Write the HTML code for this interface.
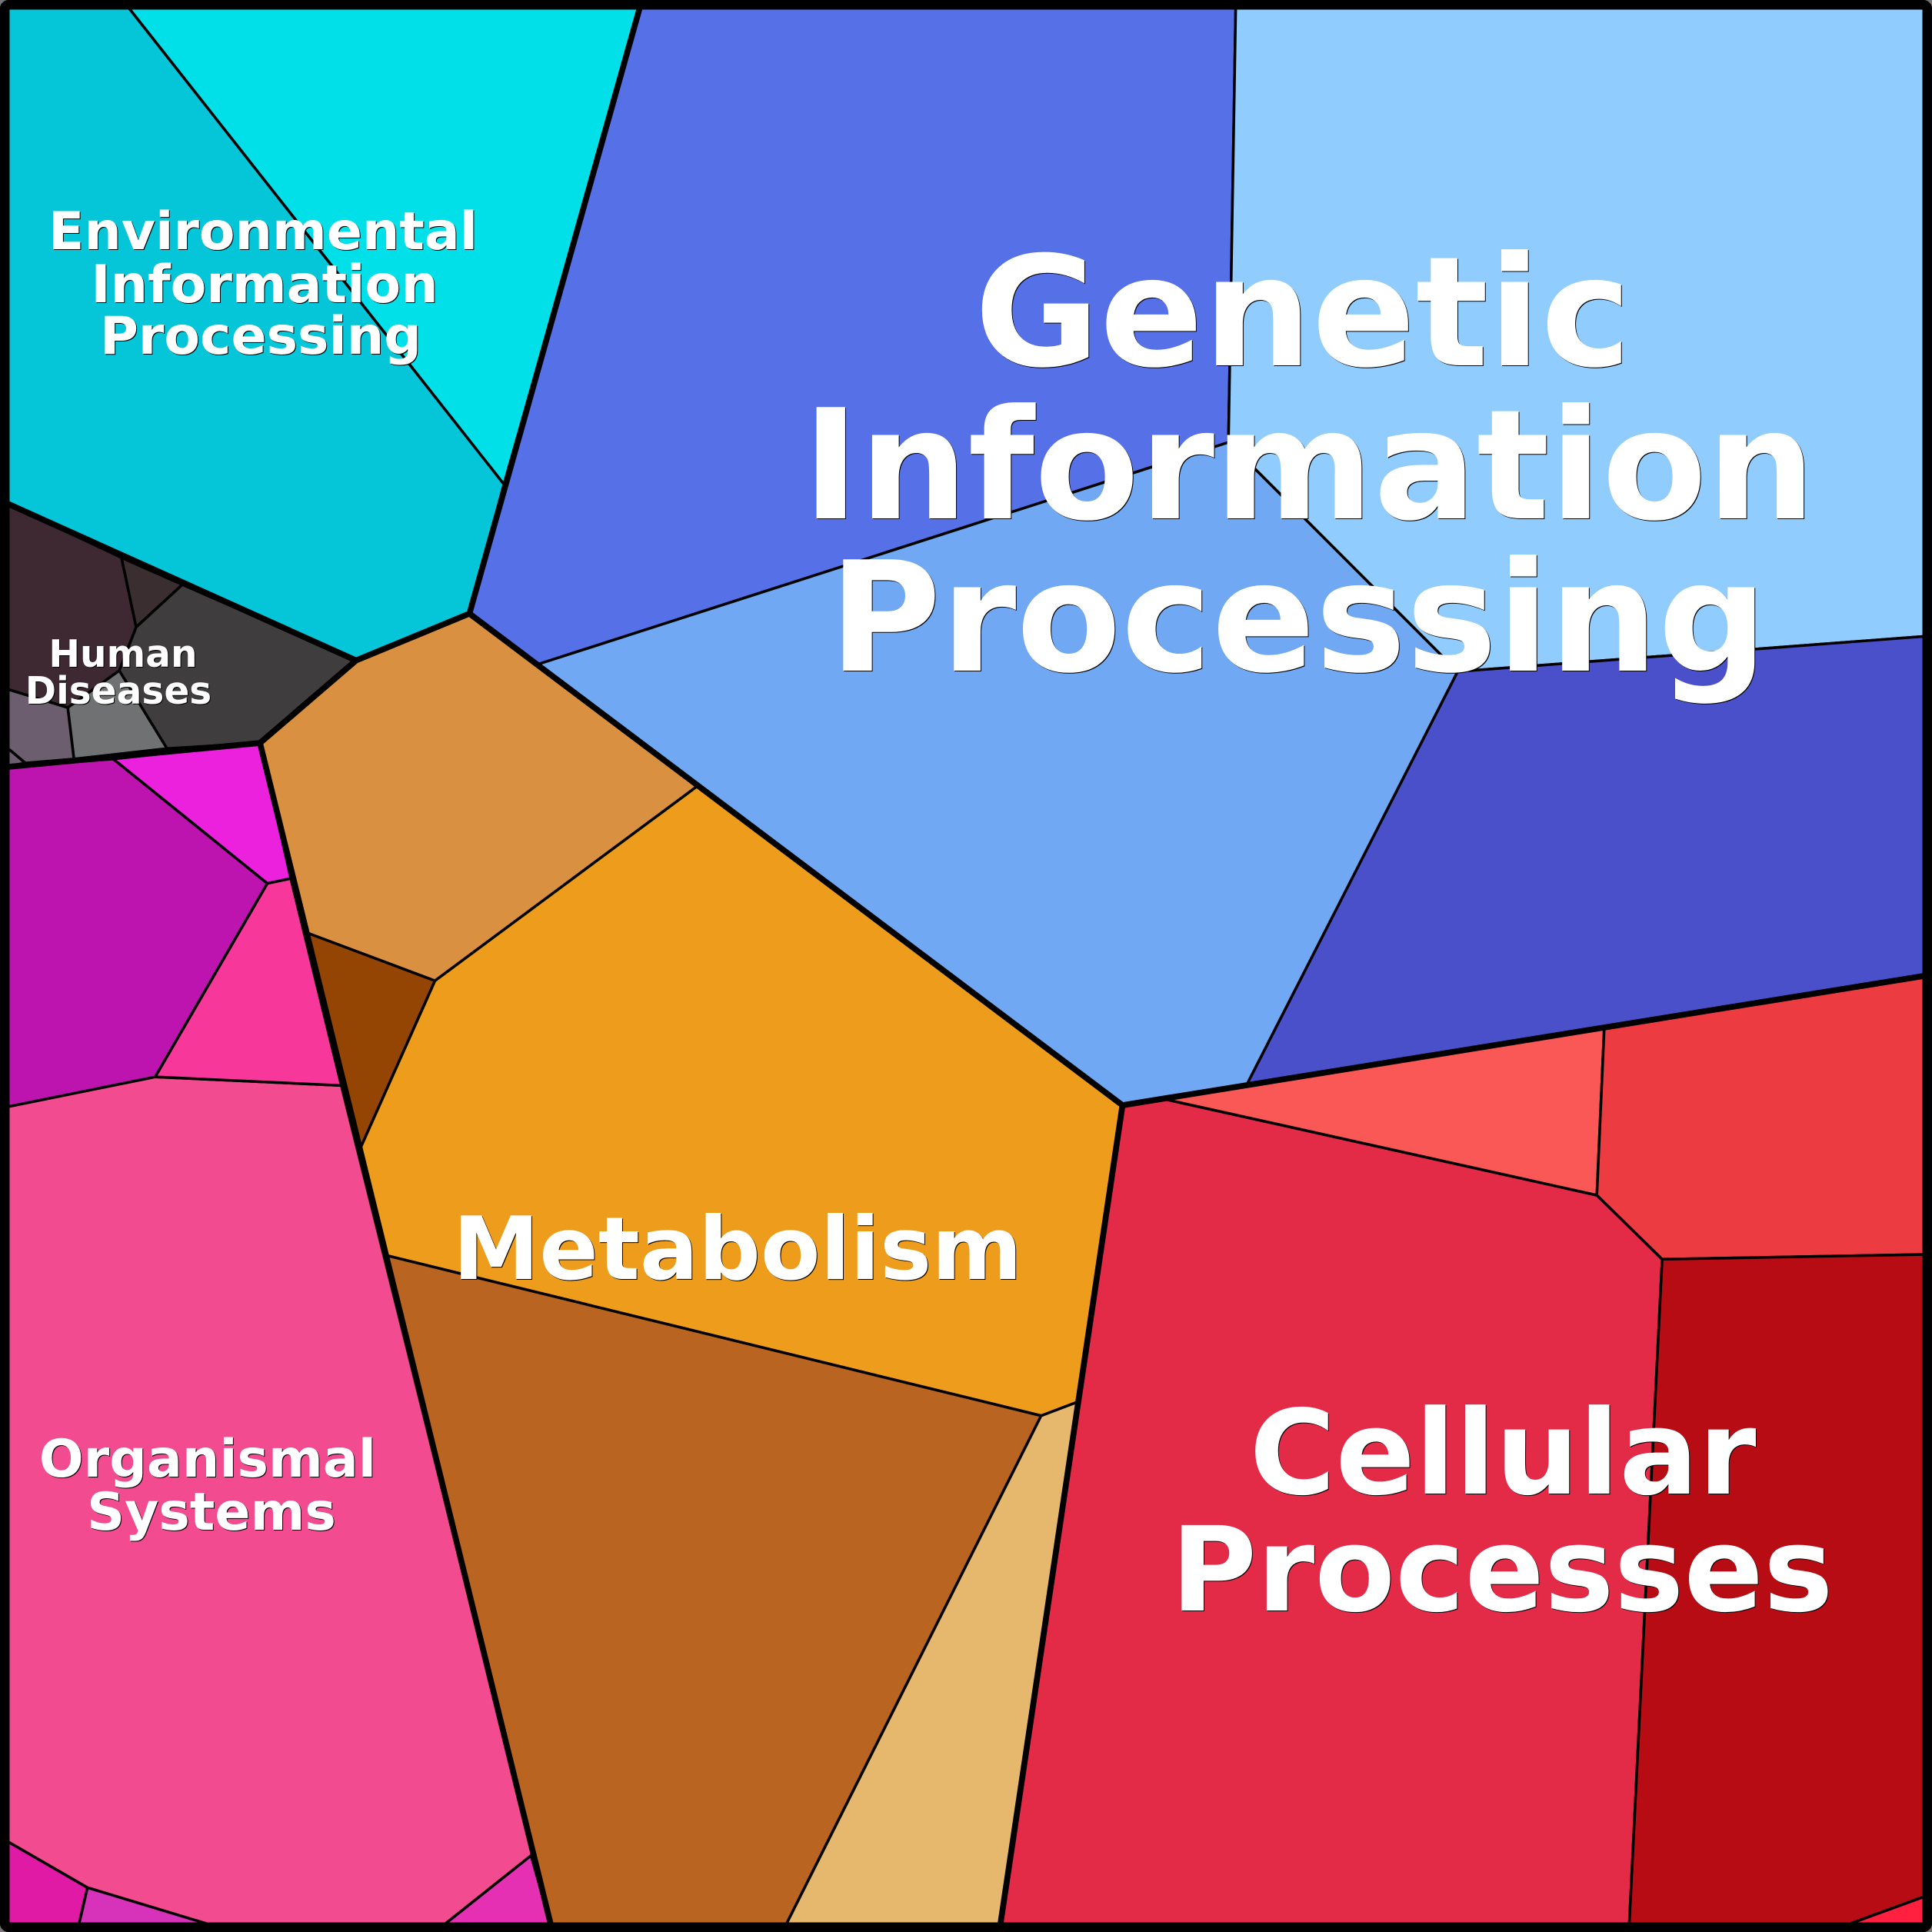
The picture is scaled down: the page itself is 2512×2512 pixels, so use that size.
<!DOCTYPE html>
<html><head><meta charset="utf-8"><style>
html,body{margin:0;padding:0;background:#000}
svg{display:block}
text{font-family:"DejaVu Sans","Liberation Sans",sans-serif;font-weight:700;fill:#fff;text-anchor:middle}
</style></head><body>
<svg xmlns="http://www.w3.org/2000/svg" width="2512" height="2512" viewBox="0 0 2512 2512">
<g transform="scale(1.60204)" stroke="#000" stroke-width="2.2" stroke-linejoin="round">
<!-- Environmental -->
<polygon fill="#05C5D8" points="0,0 99.5,0 409,393 381,498 289,536 0,406"/>
<polygon fill="#01E0E9" points="99.5,0 521,0 409,393"/>
<!-- Genetic -->
<polygon fill="#5670E7" points="521,0 1003,0 997,359 437,539 381,498 409,393"/>
<polygon fill="#91CCFE" points="1003,0 1568,0 1568,516 1183,545 997,359"/>
<polygon fill="#4950CA" points="1183,545 1568,516 1568,791 1012,880"/>
<polygon fill="#70A8F3" points="437,539 997,359 1183,545 1012,880 911,897"/>
<!-- Metabolism -->
<polygon fill="#DA9041" points="381,498 566,638 353,796 249,757 211,603 289,536"/>
<polygon fill="#944503" points="249,757 353,796 292,933"/>
<polygon fill="#EE9C1C" points="566,638 911,897 874,1138 845,1149 314,1019 292,933 353,796"/>
<polygon fill="#BA6422" points="314,1019 845,1149 635,1568 448.5,1568"/>
<polygon fill="#E6B86E" points="845,1149 874,1138 811,1568 635,1568"/>
<!-- Cellular -->
<polygon fill="#E32A47" points="911,897 945,892 1296,970 1349,1022 1322,1568 811,1568"/>
<polygon fill="#F95856" points="945,892 1302,834 1296,970"/>
<polygon fill="#ED3C41" points="1302,834 1568,791 1568,1018 1349,1022 1296,970"/>
<polygon fill="#B80C14" points="1349,1022 1568,1018 1568,1537 1483,1568 1322,1568"/>
<polygon fill="#FF2040" points="1568,1537 1568,1568 1483,1568"/>
<!-- Organismal -->
<polygon fill="#F24B8F" points="0,899.5 126,874 277,881 448.5,1568 353,1568 431,1506 353,1568 190,1568 71,1532 0,1491"/>
<polygon fill="#BD14B0" points="0,623 92,616 217,717 126,874 0,899.5"/>
<polygon fill="#EC21DD" points="92,616 211,603 236,713 217,717"/>
<polygon fill="#F7389A" points="217,717 236,713 277,881 126,874"/>
<polygon fill="#E01AA4" points="0,1491 71,1532 62.6,1568 0,1568"/>
<polygon fill="#D632BA" points="71,1532 190,1568 62.6,1568"/>
<polygon fill="#E530B4" points="353,1568 431,1506 448.5,1568"/>
<!-- Human Diseases -->
<polygon fill="#3E2932" points="0,406 98.6,452.6 110.5,509 96.8,544.3 55,574.3 0,557.5"/>
<polygon fill="#3A2E30" points="98.6,452.6 148,474.5 110.5,509"/>
<polygon fill="#403D3F" points="148,474.5 289,536 211,603 135.5,607.5 96.8,544.3 110.5,509"/>
<polygon fill="#707172" points="96.8,544.3 135.5,607.5 60,616 55,574.3"/>
<polygon fill="#6C5E6E" points="0,557.5 55,574.3 60,616 20.6,619.3 0,602"/>
<polygon fill="#6C5E6E" points="0,602 20.6,619.3 0,623"/>
<!-- Group boundaries -->
<g fill="none" stroke-width="4.8" stroke-linejoin="miter">
<polyline points="0,406 289,536 381,498 521,0"/>
<polyline points="381,498 911,897 1568,791"/>
<polyline points="911,897 811,1568"/>
<polyline points="0,623 211,603 289,536"/>
<polyline points="211,603 448.5,1568"/>
</g>
</g>
<path fill="#777" fill-rule="evenodd" d="M0 0H2512V2512H0ZM11 0A11 11 0 0 0 0 11V2501A11 11 0 0 0 11 2512H2501A11 11 0 0 0 2512 2501V11A11 11 0 0 0 2501 0Z"/>
<rect x="6.25" y="6.25" width="2499.5" height="2499.5" rx="5" fill="none" stroke="#000" stroke-width="12.5"/>
<g style="filter:drop-shadow(1.5px 1.5px 0 #000)">
<text font-size="198.5" x="1694" y="475">Genetic</text>
<text font-size="198.5" x="1702" y="674">Information</text>
<text font-size="198.5" x="1688" y="872">Processing</text>
<text font-size="113" x="959" y="1663">Metabolism</text>
<text font-size="152.5" x="1954" y="1942">Cellular</text>
<text font-size="152.5" x="1953" y="2094">Processes</text>
<text font-size="68" x="342" y="324">Environmental</text>
<text font-size="68" x="344" y="393">Information</text>
<text font-size="68" x="339" y="460">Processing</text>
<text font-size="68" x="270" y="1920">Organismal</text>
<text font-size="68" x="275" y="1989">Systems</text>
<text font-size="48.6" x="160" y="867">Human</text>
<text font-size="48.6" x="154" y="915">Diseases</text>
</g>
</svg>
</body></html>
